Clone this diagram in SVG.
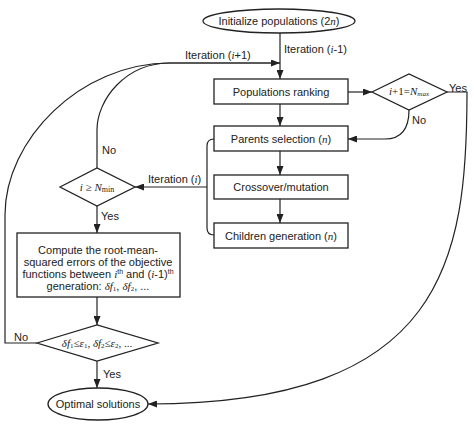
<svg xmlns="http://www.w3.org/2000/svg" width="474" height="424" viewBox="0 0 474 424">
<style>
.s{fill:#fff;stroke:#222;stroke-width:1.3}
.c{fill:none;stroke:#222;stroke-width:1.2}
.t{font-family:"Liberation Sans",Arial,sans-serif;font-size:11px;fill:#222}
.m{font-family:"Liberation Serif","Times New Roman",serif;font-style:italic}
.r{font-family:"Liberation Serif","Times New Roman",serif;font-style:normal}
</style>
<defs>
<marker id="a" markerWidth="9" markerHeight="7" refX="9" refY="3.5" orient="auto" markerUnits="userSpaceOnUse">
<path d="M0,0 L9,3.5 L0,7 z" fill="#222"/>
</marker>
</defs>
<rect width="474" height="424" fill="#fff"/>
<g id="connectors">
<path class="c" d="M280,33 V79" marker-end="url(#a)"/>
<path class="c" d="M37,343 H5 V215 C5,140 80,63 170,63 H280"/>
<path class="c" d="M170,63 H280" marker-end="url(#a)"/>
<path class="c" d="M97,168 V130 C97,100 125,63 170,63"/>
<path class="c" d="M348,92 H372" marker-end="url(#a)"/>
<path class="c" d="M447,92 H467 C467,260 445,404 148,404" marker-end="url(#a)"/>
<path class="c" d="M409,110 Q409,139 385,139 H348" marker-end="url(#a)"/>
<path class="c" d="M280,104 V126" marker-end="url(#a)"/>
<path class="c" d="M280,151 V175" marker-end="url(#a)"/>
<path class="c" d="M280,199 V223" marker-end="url(#a)"/>
<path class="c" d="M214,139 Q207,139 207,146 V228 Q207,235 214,235"/>
<path class="c" d="M207,187 H135" marker-end="url(#a)"/>
<path class="c" d="M97,206 V233" marker-end="url(#a)"/>
<path class="c" d="M97,297 V325" marker-end="url(#a)"/>
<path class="c" d="M97,361 V388" marker-end="url(#a)"/>
<text class="t" x="185" y="59">Iteration (<tspan class="m">i</tspan>+1)</text>
<text class="t" x="284" y="53">Iteration (<tspan class="m">i</tspan>-1)</text>
<text class="t" x="148" y="183">Iteration (<tspan class="m">i</tspan>)</text>
<text class="t" x="449" y="92">Yes</text>
<text class="t" x="412" y="124">No</text>
<text class="t" x="102" y="154">No</text>
<text class="t" x="101" y="220">Yes</text>
<text class="t" x="14" y="341">No</text>
<text class="t" x="103" y="378">Yes</text>
</g>
<g id="init">
<ellipse class="s" cx="279" cy="21" rx="76" ry="12"/>
<text class="t" x="279" y="25" text-anchor="middle">Initialize populations (2<tspan class="m">n</tspan>)</text>
</g>
<g id="ranking">
<rect class="s" x="214" y="79" width="134" height="25"/>
<text class="t" x="281" y="96" text-anchor="middle">Populations ranking</text>
</g>
<g id="nmax">
<polygon class="s" points="372,92 409,74 447,92 409,110"/>
<text class="t m" x="409" y="95" text-anchor="middle" font-size="9.5">i<tspan class="r">+1=</tspan>N<tspan font-size="7" dy="1">max</tspan></text>
</g>
<g id="parents">
<rect class="s" x="214" y="126" width="134" height="25"/>
<text class="t" x="281" y="143" text-anchor="middle">Parents selection (<tspan class="m">n</tspan>)</text>
</g>
<g id="crossover">
<rect class="s" x="214" y="175" width="134" height="24"/>
<text class="t" x="281" y="191" text-anchor="middle">Crossover/mutation</text>
</g>
<g id="children">
<rect class="s" x="214" y="223" width="134" height="25"/>
<text class="t" x="281" y="240" text-anchor="middle">Children generation (<tspan class="m">n</tspan>)</text>
</g>
<g id="nmin">
<polygon class="s" points="60,187 97,168 135,187 97,206"/>
<text class="t m" x="97" y="191" text-anchor="middle" font-size="12">i <tspan class="r">≥</tspan> N<tspan class="r" font-size="8" dy="1">min</tspan></text>
</g>
<g id="compute">
<rect class="s" x="17" y="233" width="163" height="64"/>
<text class="t" x="98" y="254" text-anchor="middle">Compute the root-mean-</text>
<text class="t" x="98" y="266" text-anchor="middle">squared errors of the objective</text>
<text class="t" x="98" y="278" text-anchor="middle">functions between <tspan class="m">i</tspan><tspan font-size="7" dy="-4">th</tspan><tspan dy="4"> and (</tspan><tspan class="m">i</tspan>-1)<tspan font-size="7" dy="-4">th</tspan></text>
<text class="t" x="98" y="290" text-anchor="middle">generation: <tspan class="m">δf</tspan><tspan class="r" font-size="7" dy="1">1</tspan><tspan dy="-1">, </tspan><tspan class="m">δf</tspan><tspan class="r" font-size="7" dy="1">2</tspan><tspan dy="-1">, ...</tspan></text>
</g>
<g id="converge">
<polygon class="s" points="37,343 97,325 158,343 97,361"/>
<text class="t m" x="97" y="347" text-anchor="middle" font-size="10">δf<tspan class="r" font-size="7" dy="1">1</tspan><tspan class="r" dy="-1">≤</tspan>ε<tspan class="r" font-size="7" dy="1">1</tspan><tspan class="r" dy="-1">, </tspan>δf<tspan class="r" font-size="7" dy="1">2</tspan><tspan class="r" dy="-1">≤</tspan>ε<tspan class="r" font-size="7" dy="1">2</tspan><tspan class="r" dy="-1">, ...</tspan></text>
</g>
<g id="optimal">
<ellipse class="s" cx="98" cy="404" rx="50" ry="16"/>
<text class="t" x="98" y="408" text-anchor="middle">Optimal solutions</text>
</g>
</svg>
